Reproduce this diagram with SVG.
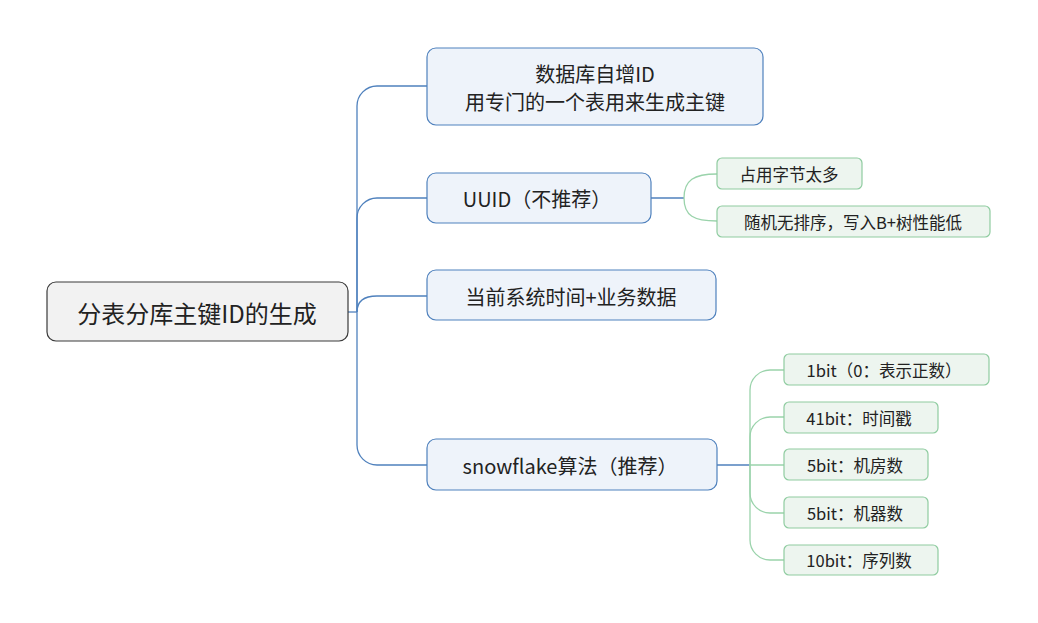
<svg xmlns="http://www.w3.org/2000/svg" width="1038" height="623" viewBox="0 0 1038 623">
<style>
text{font-family:"Noto Sans CJK SC","Noto Sans",sans-serif;fill:#222;text-anchor:middle;dominant-baseline:central}
.root rect{fill:#f2f2f2;stroke:#3a3a3a;stroke-width:1.2}
.l1 rect{fill:#eef3fa;stroke:#4f81bd;stroke-width:1.2}
.l2 rect{fill:#edf5ef;stroke:#8fcca0;stroke-width:1.2}
.l1 text{font-size:20px}
.l2 text{font-size:16.5px}
.bl{fill:none;stroke:#4f81bd;stroke-width:1.3}
.gl{fill:none;stroke:#9ad3ab;stroke-width:1.3}
</style>
<rect width="1038" height="623" fill="#fff"/>
<g id="connectors">
<path class="bl" d="M348,312 H357"/>
<path class="bl" d="M357,312 V106 A20,20 0 0 1 377,86 H427"/>
<path class="bl" d="M357,312 V218 A20,20 0 0 1 377,198 H427"/>
<path class="bl" d="M357,312 Q357,296 377,296 H427"/>
<path class="bl" d="M357,312 V445 A20,20 0 0 0 377,465 H427"/>
<path class="bl" d="M651,198 H684"/>
<path class="gl" d="M684,198 C684,180 694,174 717,174"/>
<path class="gl" d="M684,198 C684,216 694,221 717,221"/>
<path class="bl" d="M717,465 H750"/>
<path class="gl" d="M750,465 H784"/>
<path class="gl" d="M750,465 V390 A20,20 0 0 1 770,370 H784"/>
<path class="gl" d="M750,465 V437 A20,20 0 0 1 770,417 H784"/>
<path class="gl" d="M750,465 V493 A20,20 0 0 0 770,513 H784"/>
<path class="gl" d="M750,465 V540 A20,20 0 0 0 770,560 H784"/>
</g>
<g id="root" class="root"><rect x="47" y="282" width="301" height="59" rx="9"/><text x="197" y="312" font-size="24">分表分库主键ID的生成</text></g>
<g id="n1" class="l1"><rect x="427" y="48" width="336" height="77" rx="9"/><text x="595" y="73">数据库自增ID</text><text x="595" y="101">用专门的一个表用来生成主键</text></g>
<g id="n2" class="l1"><rect x="427" y="173" width="224" height="50" rx="9"/><text x="537" y="198">UUID（不推荐）</text></g>
<g id="n3" class="l1"><rect x="427" y="270" width="289" height="50" rx="9"/><text x="571" y="296">当前系统时间+业务数据</text></g>
<g id="n4" class="l1"><rect x="427" y="439" width="290" height="51" rx="9"/><text x="570" y="465">snowflake算法（推荐）</text></g>
<g id="n2a" class="l2"><rect x="717" y="158" width="145" height="31" rx="5"/><text x="789" y="174">占用字节太多</text></g>
<g id="n2b" class="l2"><rect x="717" y="206" width="273" height="31" rx="5"/><text x="853" y="222">随机无排序，写入B+树性能低</text></g>
<g id="n4a" class="l2"><rect x="784" y="354" width="205" height="31" rx="5"/><text x="884" y="370">1bit（0：表示正数）</text></g>
<g id="n4b" class="l2"><rect x="784" y="402" width="154" height="31" rx="5"/><text x="859" y="418">41bit：时间戳</text></g>
<g id="n4c" class="l2"><rect x="784" y="449" width="144" height="31" rx="5"/><text x="855" y="465">5bit：机房数</text></g>
<g id="n4d" class="l2"><rect x="784" y="497" width="144" height="31" rx="5"/><text x="855" y="513">5bit：机器数</text></g>
<g id="n4e" class="l2"><rect x="784" y="545" width="154" height="30" rx="5"/><text x="859" y="560">10bit：序列数</text></g>
</svg>
